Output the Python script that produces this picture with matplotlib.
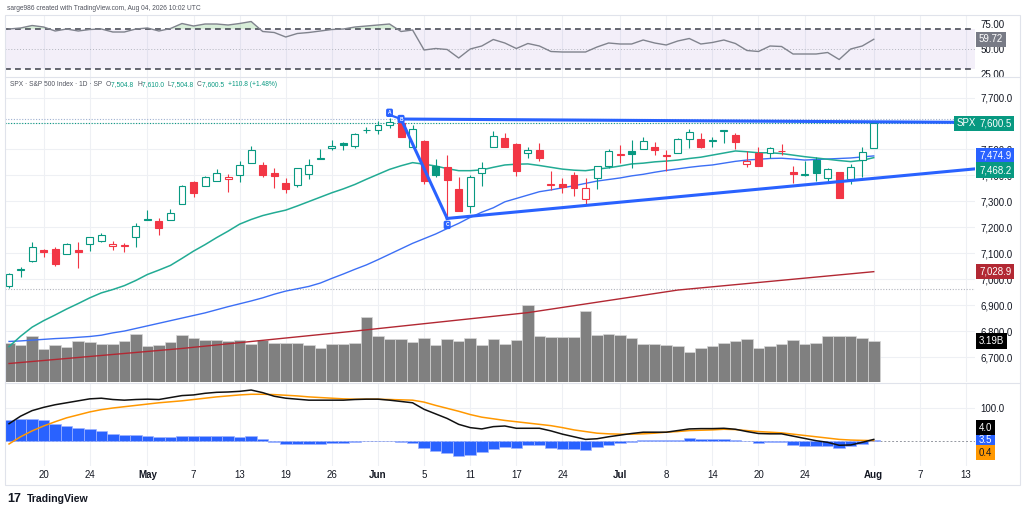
import numpy as np
import matplotlib
matplotlib.use('Agg')
import matplotlib.pyplot as plt
from matplotlib.patches import Rectangle
from matplotlib import transforms as mtransforms

plt.rcParams['font.family'] = ['Liberation Sans', 'DejaVu Sans']

W, H = 1024, 516
TEAL = '#089981'
RED = '#f23645'
BLUE = '#2962ff'
MA_GREEN = '#22ab94'
MA_RED = '#b22833'
ORANGE = '#ff9800'
GRID = '#eef0f4'
TXT = '#131722'

# ---- daily SPX candles (bar index 0 .. 75) ----
opens = [6972, 7036, 7069, 7112, 7117, 7098, 7112, 7134, 7147, 7129,
         7128, 7164, 7231, 7224, 7228, 7288, 7373, 7358, 7379, 7385,
         7403, 7449, 7440, 7410, 7372, 7363, 7404, 7463, 7507, 7524,
         7514, 7573, 7575, 7594, 7600, 7511, 7532, 7436, 7433, 7346,
         7282, 7408, 7511, 7543, 7521, 7485, 7498, 7362, 7365, 7401,
         7308, 7389, 7436, 7478, 7492, 7502, 7511, 7474, 7485, 7539,
         7540, 7532, 7570, 7555, 7444, 7485, 7485, 7492, 7414, 7401,
         7459, 7391, 7414, 7385, 7459, 7504.8]
highs = [7022, 7048, 7144, 7117, 7125, 7138, 7145, 7162, 7177, 7148,
         7140, 7215, 7266, 7237, 7269, 7363, 7380, 7398, 7423, 7405,
         7457, 7513, 7453, 7427, 7389, 7427, 7462, 7500, 7536, 7530,
         7565, 7585, 7611, 7620, 7620, 7594, 7536, 7462, 7478, 7392,
         7401, 7453, 7572, 7562, 7526, 7508, 7526, 7418, 7389, 7414,
         7389, 7436, 7500, 7517, 7536, 7549, 7530, 7498, 7543, 7578,
         7562, 7549, 7575, 7564, 7494, 7511, 7511, 7521, 7436, 7457,
         7472, 7428, 7414, 7444, 7508, 7610.0]
lows = [6965, 7007, 7068, 7084, 7051, 7097, 7044, 7110, 7143, 7112,
        7104, 7125, 7228, 7170, 7228, 7288, 7318, 7358, 7379, 7337,
        7373, 7449, 7395, 7350, 7331, 7356, 7385, 7463, 7498, 7498,
        7504, 7562, 7558, 7581, 7549, 7508, 7367, 7392, 7234, 7264,
        7254, 7359, 7511, 7508, 7398, 7466, 7457, 7344, 7331, 7320,
        7290, 7346, 7427, 7446, 7427, 7502, 7478, 7418, 7485, 7504,
        7504, 7511, 7523, 7500, 7431, 7436, 7466, 7478, 7372, 7397,
        7380, 7380, 7311, 7367, 7392, 7504.8]
closes = [7020, 7038, 7122, 7105, 7058, 7134, 7105, 7161, 7170, 7135,
          7131, 7205, 7228, 7196, 7254, 7360, 7333, 7395, 7408, 7395,
          7440, 7498, 7401, 7398, 7347, 7427, 7440, 7468, 7514, 7518,
          7558, 7575, 7594, 7604, 7549, 7577, 7379, 7400, 7382, 7264,
          7392, 7427, 7552, 7508, 7417, 7498, 7468, 7364, 7354, 7352,
          7350, 7436, 7494, 7480, 7483, 7534, 7498, 7476, 7539, 7568,
          7511, 7538, 7571, 7530, 7454, 7436, 7504, 7494, 7404, 7407,
          7408, 7425, 7311, 7433, 7489.7, 7600.5]
volume_b = [3.03, 2.90, 3.55, 2.59, 2.90, 2.72, 3.19, 3.11, 2.93, 2.93,
            3.19, 3.76, 2.80, 2.85, 3.11, 3.68, 3.45, 3.24, 3.29, 3.19,
            3.24, 2.93, 3.24, 3.03, 3.06, 3.03, 2.85, 2.64, 2.98, 2.98,
            3.06, 5.05, 3.55, 3.34, 3.34, 3.11, 3.45, 2.90, 3.34, 3.16,
            3.42, 2.90, 3.34, 2.98, 3.29, 5.96, 3.60, 3.47, 3.47, 3.47,
            5.49, 3.68, 3.76, 3.65, 3.39, 2.98, 2.93, 2.85, 2.77, 2.33,
            2.67, 2.77, 3.06, 3.19, 3.34, 2.67, 2.82, 2.93, 3.29, 2.98,
            3.06, 3.58, 3.58, 3.55, 3.42, 3.19]

# moving averages
ma_fast = [6740, 6780, 6815, 6840, 6862, 6885, 6906, 6928, 6947, 6960,
           6975, 6995, 7018, 7035, 7053, 7080, 7108, 7133, 7160, 7185,
           7212, 7230, 7245, 7256, 7266, 7282, 7299, 7316, 7333, 7348,
           7365, 7385, 7404, 7423, 7437, 7449, 7443, 7436, 7426, 7418,
           7418, 7421, 7431, 7440, 7443, 7444, 7438, 7431, 7424, 7420,
           7418, 7424, 7429, 7436, 7444, 7447, 7452, 7455, 7459, 7465,
           7470, 7478, 7486, 7494, 7491, 7487, 7487, 7484, 7478, 7472,
           7467, 7462, 7457, 7453, 7458, 7468.2]
ma_mid = [6760, 6762, 6765, 6768, 6771, 6773, 6776, 6779, 6784, 6793,
          6800, 6810, 6820, 6830, 6840, 6850, 6860, 6870, 6882, 6894,
          6905, 6916, 6928, 6942, 6954, 6963, 6972, 6985, 7003, 7020,
          7038, 7055, 7075, 7096, 7117, 7138, 7156, 7174, 7195, 7215,
          7238, 7258, 7275, 7298, 7311, 7324, 7337, 7344, 7352, 7360,
          7369, 7378, 7384, 7390, 7398, 7404, 7412, 7419, 7425, 7431,
          7436, 7440, 7447, 7454, 7459, 7462, 7465, 7466, 7463, 7459,
          7461, 7463, 7465, 7467, 7471, 7474.9]
ma_slow_idx = [0, 15, 30, 45, 58, 75]
ma_slow = [6675, 6733, 6800, 6871, 6958, 7028.9]

# RSI
rsi = [70, 71, 73.5, 72, 68, 70, 68, 69.5, 70, 67,
       67, 70, 71, 68, 70.5, 75.5, 73, 75, 75, 74,
       75.5, 77.5, 67.5, 66.5, 62, 65.5, 66.5, 68, 69.5, 70,
       72, 73, 74, 75, 67.5, 69, 49, 50.5, 49.5, 41,
       50, 53, 59.5, 56, 50.5, 55.5, 53, 47.5, 47, 47,
       47, 52, 56, 55, 55, 59, 56, 54, 58, 60.5,
       55, 56.5, 59, 55.5, 48.5, 47.5, 53, 52.5, 45, 45,
       45, 46.5, 39.5, 50, 53, 59.72]

# MACD
macd = [52, 75, 92, 102, 110, 116, 122, 128, 130, 126,
        124, 126, 127, 126, 132, 138, 140, 145, 148, 149,
        151, 155, 147, 136, 130, 127, 124, 124, 124, 124,
        126, 127, 127, 124, 120, 116, 96, 82, 68, 50,
        40, 36, 43, 45, 38, 38, 38, 30, 20, 12,
        4, 6, 12, 17, 22, 26, 26, 26, 31, 36,
        37, 37, 38, 35, 28, 22, 21, 21, 14, 7,
        0, -5, -14, -13, -5, 4.0]
signal = [-10, 12, 30, 45, 58, 70, 79, 88, 95, 100,
          104, 108, 112, 116, 119, 122, 126, 130, 134, 137,
          140, 142, 142, 141, 139, 137, 134, 132, 130, 128,
          127, 127, 127, 126, 125, 124, 118, 108, 99, 90,
          80, 72, 67, 62, 58, 54, 50, 46, 40, 33,
          28, 23, 21, 20, 20, 21, 23, 26, 28, 31,
          32, 33, 35, 34, 31, 28, 26, 24, 20, 16,
          12, 8, 4, 2, 1, 0.4]
hist = [63, 65, 66, 62, 52, 44, 40, 36, 30, 21,
        18, 16, 14, 10, 10, 15, 14, 15, 15, 14,
        12, 13, 5, -3, -10, -10, -11, -10, -8, -6,
        -4, -2, -2, -2, -4, -6, -22, -31, -37, -47,
        -43, -35, -24, -19, -21, -14, -14, -21, -24, -26,
        -28, -20, -12, -6, -3, 2, 2, 2, 3, 8,
        5, 4, 6, 2, -2, -7, -5, -5, -13, -15,
        -17, -17, -23, -17, -10, 3.5]

tick_pos = [3, 7, 12, 16, 20, 24, 28, 32, 36, 40, 44, 48, 53, 57, 61, 65, 69, 75, 79, 83]
tick_lab = ['20', '24', 'May', '7', '13', '19', '26', 'Jun', '5', '11', '17', '24',
            'Jul', '8', '14', '20', '24', 'Aug', '7', '13']
price_ticks = [6700, 6800, 6900, 7000, 7100, 7200, 7300, 7400, 7500, 7700]

# drawn pattern (A, B, C) and the two trend lines
pat_A = (33, 7641)
pat_B = (34, 7617)
pat_C = (38, 7234)
top_line_end = 7604
bottom_line_end = 7425
marker_C_price = 7209
upper_dotted = 7616
lower_dotted = 6962

X_LEFT, X_RIGHT = -0.35, 83.78


def rect(top, bottom, x0=5, x1=975):
    return [x0 / W, 1 - bottom / H, (x1 - x0) / W, (bottom - top) / H]


fig = plt.figure(figsize=(W / 100, H / 100), dpi=100)
fig.patch.set_facecolor('white')

ax_rsi = fig.add_axes(rect(16, 77))
ax_vol = fig.add_axes(rect(77, 382), sharex=ax_rsi)
ax = fig.add_axes(rect(77, 382), sharex=ax_rsi)
ax_macd = fig.add_axes(rect(383, 466), sharex=ax_rsi)
ax.patch.set_visible(False)

for a in (ax_rsi, ax_vol, ax, ax_macd):
    for s in a.spines.values():
        s.set_visible(False)
    a.yaxis.tick_right()
    a.tick_params(axis='both', length=0, labelsize=7, labelcolor=TXT)
    a.set_xticks(tick_pos)
ax_rsi.set_xlim(X_LEFT, X_RIGHT)
for a in (ax_rsi, ax_vol, ax):
    a.tick_params(labelbottom=False)
for a in (ax_rsi, ax_vol, ax_macd):
    a.grid(axis='x', color=GRID, lw=0.8)
    a.set_axisbelow(True)

n = len(closes)
xs = np.arange(n)

# ---- RSI pane ----
ax_rsi.set_ylim(22, 83)
ax_rsi.fill_between([X_LEFT, X_RIGHT], 30, 70, color='#7e57c2', alpha=0.09, lw=0)
ax_rsi.axhline(70, color='#4a4d57', lw=1.2, dashes=(3.5, 2.5))
ax_rsi.axhline(30, color='#4a4d57', lw=1.2, dashes=(3.5, 2.5))
ax_rsi.axhline(50, color='#b2b5be', lw=0.7, dashes=(1, 2))
r = np.array(rsi)
ax_rsi.fill_between(xs, r, 70, where=r > 70, interpolate=True, color='#4caf50', alpha=0.22, lw=0)
ax_rsi.plot(xs, r, color='#80838d', lw=1.0)
ax_rsi.set_yticks([25, 50, 75])
ax_rsi.set_yticklabels(['25.00', '50.00', '75.00'])
ax_rsi.tick_params(axis='y', pad=4)

# ---- price pane ----
ax.set_ylim(6603.7, 7779.0)
ax_vol.set_ylim(0, 23.73)
ax_vol.set_yticks([])
ax_vol.bar(xs, volume_b, width=1.0, color='#808080', edgecolor='#d6d6d6', lw=0.5)
gtr = mtransforms.blended_transform_factory(ax_vol.transAxes, ax.transData)
for p in price_ticks + [7600]:
    ax_vol.plot([0, 1], [p, p], transform=gtr, color=GRID, lw=0.8, zorder=0)

ax.set_yticks(price_ticks)
ax.set_yticklabels([f'{p:,.1f}' for p in price_ticks])
ax.tick_params(axis='y', pad=4)

ax.axhline(upper_dotted, color='#9fb0d0', lw=0.8, dashes=(1, 1.5))
ax.axhline(closes[-1], color=TEAL, lw=0.8, dashes=(1, 1.5))
ax.axhline(lower_dotted, color='#b2b5be', lw=0.8, dashes=(1, 1.5))

ax.plot(ma_slow_idx, ma_slow, color=MA_RED, lw=1.0, zorder=2)
ax.plot(xs, ma_mid, color='#3c6ff5', lw=1.0, zorder=2)
ax.plot(xs, ma_fast, color=MA_GREEN, lw=1.1, zorder=2)

for i in range(n):
    o, h, l, c = opens[i], highs[i], lows[i], closes[i]
    prev = closes[i - 1] if i else o
    col = TEAL if c >= prev else RED
    hollow = c >= o
    ax.vlines(i, l, h, color=col, lw=0.8, zorder=3)
    body_h = max(abs(c - o), 3)
    ax.add_patch(Rectangle((i - 0.3, min(o, c)), 0.6, body_h,
                           facecolor='white' if hollow else col,
                           edgecolor=col, lw=0.8, zorder=4))

# pattern / trend lines
ax.plot([pat_A[0], pat_B[0]], [pat_A[1] - 8, pat_B[1]], color=BLUE, lw=1.6, zorder=5)
ax.plot([pat_B[0], X_RIGHT], [pat_B[1], top_line_end], color=BLUE, lw=2.2, zorder=5)
ax.plot([pat_B[0], pat_C[0]], [pat_B[1], pat_C[1]], color=BLUE, lw=2.2, zorder=5)
ax.plot([pat_C[0], X_RIGHT], [pat_C[1], bottom_line_end], color=BLUE, lw=2.2, zorder=5)
for lab, mx, my in [('A', pat_A[0], pat_A[1]), ('B', pat_B[0], pat_B[1]),
                    ('C', pat_C[0], marker_C_price)]:
    ax.text(mx, my, lab, fontsize=3.5, color='white', ha='center', va='center',
            fontweight='bold', zorder=6,
            bbox=dict(boxstyle='round,pad=0.35', fc=BLUE, ec='none'))

# ---- MACD pane ----
ax_macd.set_ylim(-77.4, 176.5)
ax_macd.bar(xs, hist, width=1.0, color=BLUE, edgecolor='#9fb4ff', lw=0.5, zorder=2)
ax_macd.axhline(0, color='#9598a1', lw=0.7, dashes=(2, 2), zorder=1)
ax_macd.plot(xs, signal, color=ORANGE, lw=1.1, zorder=3)
ax_macd.plot(xs, macd, color='#111111', lw=1.1, zorder=4)
ax_macd.set_yticks([100])
ax_macd.set_yticklabels(['100.0'])
ax_macd.grid(axis='y', color=GRID, lw=0.8)
ax_macd.tick_params(axis='y', pad=4)
ax_macd.set_xticklabels(tick_lab)
ax_macd.tick_params(axis='x', pad=3)
for t in ax_macd.get_xticklabels():
    if t.get_text() in ('May', 'Jun', 'Jul', 'Aug'):
        t.set_fontweight('bold')


# ---- right-scale value tags ----
def tag(a, value, text, fc, dy=0, x_px=979, tc='white'):
    tr = mtransforms.blended_transform_factory(fig.transFigure, a.transData)
    tr = mtransforms.offset_copy(tr, fig=fig, x=0, y=-dy, units='dots')
    fig.text(x_px / W, value, text, transform=tr, fontsize=7, color=tc,
             ha='left', va='center', zorder=20,
             bbox=dict(boxstyle='square,pad=0.28', fc=fc, ec='none'))


tag(ax_rsi, rsi[-1], f'{rsi[-1]:.2f}', '#787b86')
tag(ax, closes[-1], f'{closes[-1]:,.1f}', TEAL)
tag(ax, closes[-1], 'SPX', TEAL, x_px=957)
tag(ax, ma_mid[-1], f'{ma_mid[-1]:,.1f}', BLUE)
tag(ax, ma_fast[-1], f'{ma_fast[-1]:,.1f}', TEAL, dy=12.5)
tag(ax, ma_slow[-1], f'{ma_slow[-1]:,.1f}', MA_RED)
tag(ax_vol, volume_b[-1], f'{volume_b[-1]:.2f}B', '#000000')
tag(ax_macd, hist[-1], f'{hist[-1]:.1f}', BLUE)
tag(ax_macd, hist[-1], f'{macd[-1]:.1f}', '#000000', dy=-12)
tag(ax_macd, hist[-1], f'{signal[-1]:.1f}', ORANGE, dy=13, tc='#131722')

# ---- frame & separators ----
for yy in (77, 382.5):
    fig.add_artist(plt.Line2D([5 / W, 1020 / W], [1 - yy / H] * 2, color='#e0e3eb', lw=0.8))
fig.add_artist(Rectangle((5 / W, 1 - 485 / H), 1015 / W, 470 / H, fill=False,
                         ec='#e0e3eb', lw=0.8, transform=fig.transFigure))

# ---- header and legend texts ----
fig.text(7 / W, 1 - 8 / H, 'sarge986 created with TradingView.com, Aug 04, 2026 10:02 UTC',
         fontsize=4.8, color='#50535e', va='center')

chg = closes[-1] - closes[-2]
pct = chg / closes[-2] * 100
pieces = [('SPX · S&P 500 Index · 1D · SP  ', '#50535e'),
          ('O', '#50535e'), (f'{opens[-1]:,.1f}  ', TEAL),
          ('H', '#50535e'), (f'{highs[-1]:,.1f}  ', TEAL),
          ('L', '#50535e'), (f'{lows[-1]:,.1f}  ', TEAL),
          ('C', '#50535e'), (f'{closes[-1]:,.1f}  ', TEAL),
          (f'+{chg:.1f} (+{pct:.2f}%)', TEAL)]
fig.canvas.draw()
rend = fig.canvas.get_renderer()
xp = 10
for s, col in pieces:
    t = fig.text(xp / W, 1 - 85 / H, s, fontsize=4.8, color=col, va='center', ha='left')
    xp += t.get_window_extent(renderer=rend).width

fig.text(7 / W, 1 - 499 / H, '17', fontsize=9, fontweight='heavy', color=TXT, va='center')
fig.text(27 / W, 1 - 499 / H, 'TradingView', fontsize=7.6, fontweight='bold', color=TXT, va='center')

fig.savefig('out.png', dpi=100)
